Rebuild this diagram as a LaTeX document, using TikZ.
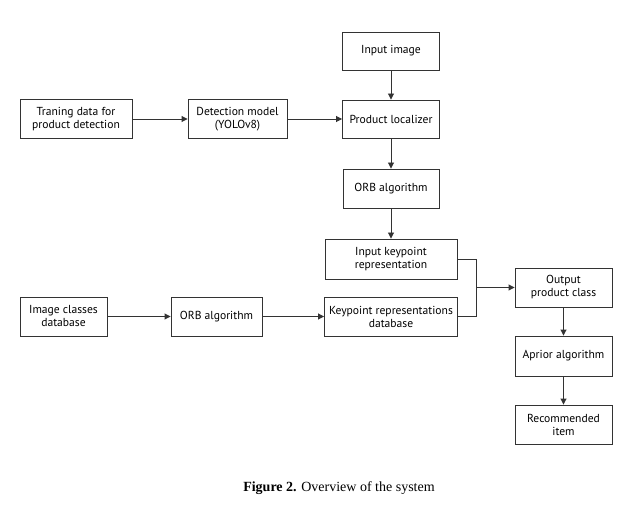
\documentclass[tikz,border=0pt]{standalone}
\usepackage{fontspec}
\setmainfont{Liberation Serif}
\newfontfamily\boxfont{PT Sans}
\usetikzlibrary{arrows.meta}
\definecolor{edge}{HTML}{333333}
\tikzset{
  blk/.style={draw=edge, line width=0.9pt, fill=white, align=center,
    font=\boxfont\fontsize{11.6}{13}\selectfont, inner sep=0pt},
  link/.style={draw=edge, line width=0.9pt, -{Triangle[length=6pt,width=6pt]}},
  plain/.style={draw=edge, line width=0.9pt},
}
\begin{document}
\begin{tikzpicture}[x=1pt,y=-1pt]
\useasboundingbox (0,0) rectangle (632,505);
% upper chain: detection and localisation
\node[blk, minimum width=97pt, minimum height=38pt] (inimg) at (391,51) {Input image};
\node[blk, minimum width=97pt, minimum height=38pt] (loc) at (391,119) {Product localizer};
\node[blk, minimum width=96pt, minimum height=39pt] (orbA) at (391,188.5) {ORB algorithm};
\node[blk, minimum width=112pt, minimum height=39pt] (train) at (76,119) {Traning data for\\product detection};
\node[blk, minimum width=99pt, minimum height=39pt] (det) at (237.5,119) {Detection model\\(YOLOv8)};
% keypoint matching
\node[blk, minimum width=132pt, minimum height=40pt] (ikr) at (391,259) {Input keypoint\\representation};
\node[blk, minimum width=133pt, minimum height=39pt] (krdb) at (391,316.5) {Keypoint representations\\database};
\node[blk, minimum width=87pt, minimum height=39pt] (icdb) at (63.5,316.5) {Image classes\\database};
\node[blk, minimum width=91pt, minimum height=39pt] (orbB) at (216.5,316.5) {ORB algorithm};
% classification and recommendation
\node[blk, minimum width=97pt, minimum height=39pt] (opc) at (563.5,287.5) {Output\\product class};
\node[blk, minimum width=97pt, minimum height=40pt] (apr) at (563.5,356) {Aprior algorithm};
\node[blk, minimum width=97pt, minimum height=39pt] (rec) at (563.5,424.5) {Recommended\\item};
\coordinate (jn) at (476,287.5);
% connectors
\draw[link] (inimg) -- (loc);
\draw[link] (train) -- (det);
\draw[link] (det) -- (loc);
\draw[link] (loc) -- (orbA);
\draw[link] (orbA) -- (ikr);
\draw[link] (icdb) -- (orbB);
\draw[link] (orbB) -- (krdb);
\draw[plain] (ikr.east) -| (jn);
\draw[plain] (krdb.east) -| (jn);
\draw[link] (jn) -- (opc.west);
\draw[link] (opc) -- (apr);
\draw[link] (apr) -- (rec);
% caption
\node[font=\fontsize{14}{16}\selectfont] (cap) at (339,488) {\textbf{Figure 2.} Overview of the system};
\end{tikzpicture}
\end{document}
